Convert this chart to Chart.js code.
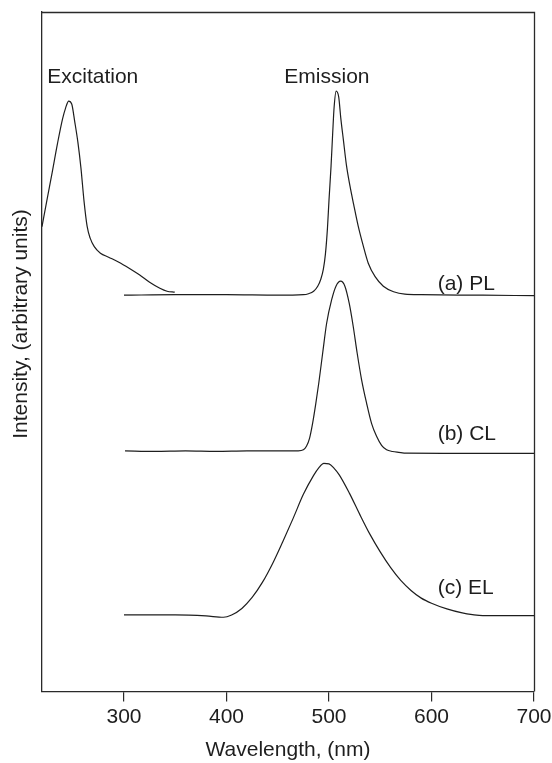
<!DOCTYPE html>
<html>
<head>
<meta charset="utf-8">
<script src="https://cdn.jsdelivr.net/npm/chart.js@4"></script>
<style>
  html, body { margin: 0; padding: 0; background: #ffffff; }
  #wrap { width: 552px; height: 763px; }
</style>
</head>
<body>
<div id="wrap"><canvas id="c" width="552" height="763"></canvas></div>
<script>
// ---- Data (wavelength in nm, intensity in arbitrary units, offset stacked) ----
const excitationWl  = [220, 225, 230, 235, 240, 243, 246, 249, 252, 255, 258, 261, 264, 267, 271, 277, 285, 295, 305, 315, 325, 335, 342, 349.5];
const excitationVal = [464.5, 492, 519, 547, 572, 583, 590, 587, 569, 549, 523, 490, 465, 453, 444.5, 438, 434, 429, 423, 416.5, 409, 403, 400, 399];

const plWl  = [300, 350, 400, 450, 475, 480, 485, 489, 492, 494.5, 496.5, 498.5, 500, 502, 503.6, 505, 507, 509.5, 511.5, 514, 517, 520.5, 524, 528.5, 533.5, 538.3, 545, 553, 563, 574, 590, 650, 700];
const plVal = [396, 396.5, 396.5, 396, 396.5, 397.5, 400, 405, 412, 422, 437, 463, 491, 525, 558, 584, 600, 594, 573, 551.5, 526, 505, 487, 465, 445, 428, 414.5, 405, 399.5, 397, 396.5, 396, 395.5];

const clWl  = [301, 330, 360, 390, 420, 450, 470, 475, 478, 481, 484, 487, 490, 493.8, 497.7, 502.6, 506.8, 511.4, 515.5, 519.7, 523.6, 527.5, 531.8, 536.7, 541.5, 546.4, 551.3, 556.2, 562, 568, 575.6, 620, 700];
const clVal = [240.5, 240, 240.5, 240, 240.5, 240.5, 240.5, 241.5, 245, 253, 268, 287, 308, 338, 368, 391.5, 405, 410, 405, 388, 365, 338, 311.5, 288, 268, 255, 246, 241.5, 239.8, 239, 238.2, 238, 238];

const elWl  = [300, 350, 380, 397, 405, 415, 425, 435, 445, 455, 465, 475, 485, 490, 495, 500, 505, 510, 520, 530, 540, 550, 560, 570, 580, 590, 600, 615, 630, 640, 650, 700];
const elVal = [76.5, 76.5, 75.5, 74.2, 76.5, 83, 94, 109, 128, 150, 173, 197, 216, 223.5, 228, 227.5, 223, 216.5, 198, 177, 157, 139.5, 124, 111, 101, 93.3, 88.2, 82.5, 78.5, 76.8, 75.8, 75.8];

const xTickValues = [300, 400, 500, 600, 700];

const labelTexts = ['Excitation', 'Emission', '(a) PL', '(b) CL', '(c) EL'];
const labelWl    = [269.5, 498, 606, 606, 606];
const labelVal   = [608, 608, 401.5, 251.5, 97.5];
const labelAlign = ['center', 'center', 'left', 'left', 'left'];

const xTitle = 'Wavelength, (nm)';
const yTitle = 'Intensity, (arbitrary units)';

// ---- Chart ----
const FONT = '"Liberation Sans", Arial, Helvetica, sans-serif';
const INK = '#1e1e1e';
const toPts = (xs, ys) => xs.map((x, i) => ({ x: x, y: ys[i] }));

const lineStyle = {
  borderColor: INK,
  borderWidth: 1.2,
  pointRadius: 0,
  fill: false,
  cubicInterpolationMode: 'monotone'
};

const annotate = {
  id: 'annotate',
  afterDraw(chart) {
    const { ctx, chartArea, scales } = chart;
    ctx.save();
    // frame (top and right sides)
    ctx.strokeStyle = '#2a2a2a';
    ctx.lineWidth = 1.3;
    ctx.beginPath();
    ctx.moveTo(chartArea.left, Math.round(chartArea.top) + 0.5);
    ctx.lineTo(Math.round(chartArea.right) + 0.5, Math.round(chartArea.top) + 0.5);
    ctx.lineTo(Math.round(chartArea.right) + 0.5, chartArea.bottom);
    ctx.stroke();
    // labels
    ctx.fillStyle = INK;
    ctx.font = '21px ' + FONT;
    ctx.textBaseline = 'alphabetic';
    labelTexts.forEach((t, i) => {
      ctx.textAlign = labelAlign[i];
      ctx.fillText(t, scales.x.getPixelForValue(labelWl[i]), scales.y.getPixelForValue(labelVal[i]));
    });
    // y axis title
    ctx.translate(21, 324);
    ctx.rotate(-Math.PI / 2);
    ctx.textAlign = 'center';
    ctx.textBaseline = 'middle';
    ctx.fillText(yTitle, 0, 0);
    ctx.restore();
  }
};

new Chart(document.getElementById('c'), {
  type: 'line',
  data: {
    datasets: [
      Object.assign({ label: 'Excitation', data: toPts(excitationWl, excitationVal) }, lineStyle),
      Object.assign({ label: '(a) PL', data: toPts(plWl, plVal) }, lineStyle),
      Object.assign({ label: '(b) CL', data: toPts(clWl, clVal) }, lineStyle),
      Object.assign({ label: '(c) EL', data: toPts(elWl, elVal) }, lineStyle)
    ]
  },
  options: {
    responsive: false,
    animation: false,
    devicePixelRatio: 1,
    layout: { padding: { top: 12, right: 18, left: 42, bottom: 0 } },
    plugins: { legend: { display: false }, tooltip: { enabled: false } },
    scales: {
      x: {
        type: 'linear',
        min: 220,
        max: 700,
        afterBuildTicks: (s) => { s.ticks = xTickValues.map(v => ({ value: v })); },
        afterFit: (s) => { s.height = 71.5; s.paddingRight = 0; s.paddingLeft = 0; },
        grid: { display: true, drawOnChartArea: false, drawTicks: true, tickLength: 10, color: '#2a2a2a', lineWidth: 1.2 },
        border: { display: true, color: '#2a2a2a', width: 1.3 },
        ticks: { color: INK, font: { family: FONT, size: 21 }, padding: 3, maxRotation: 0 },
        title: { display: true, text: xTitle, color: INK, font: { family: FONT, size: 21 }, padding: { top: 0, bottom: 0.5 } }
      },
      y: {
        type: 'linear',
        min: 0,
        max: 679,
        afterFit: (s) => { s.width = 0; },
        grid: { display: false, drawTicks: false },
        border: { display: true, color: '#2a2a2a', width: 1.3 },
        ticks: { display: false }
      }
    }
  },
  plugins: [annotate]
});
</script>
</body>
</html>
